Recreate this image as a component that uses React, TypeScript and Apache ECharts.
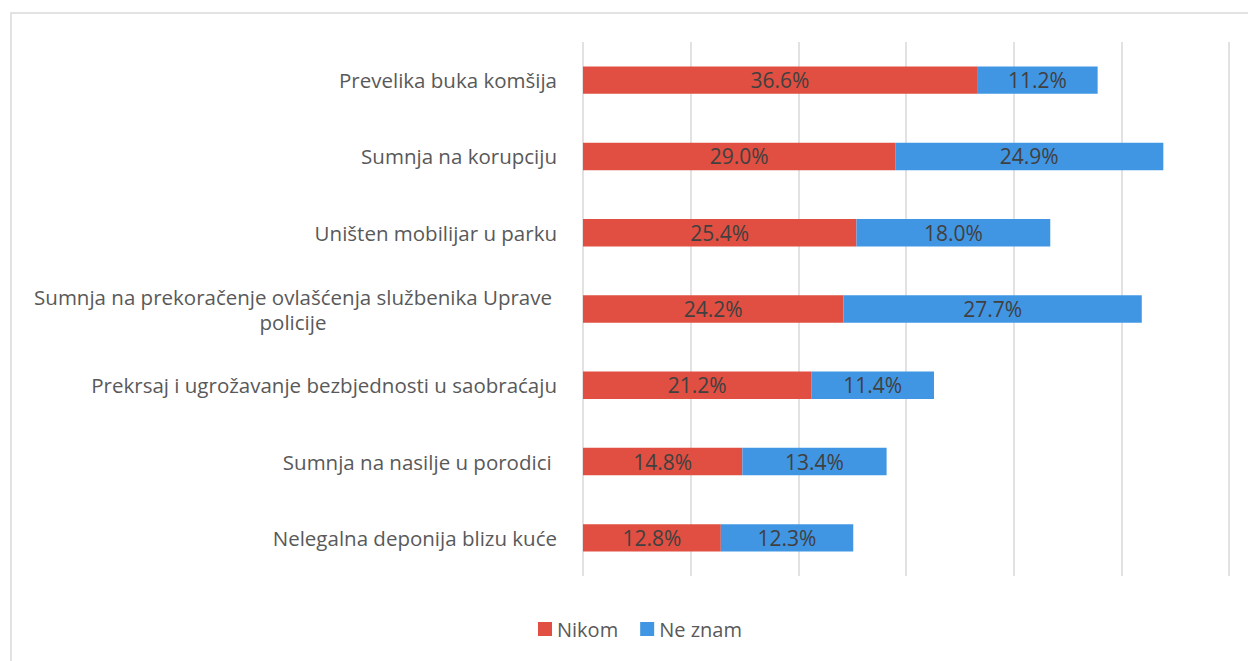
import React, { useEffect, useRef } from "react";
import * as echarts from "echarts";

const categories = [
  "Prevelika buka komšija",
  "Sumnja na korupciju",
  "Uništen mobilijar u parku",
  "Sumnja na prekoračenje ovlašćenja službenika Uprave\npolicije",
  "Prekrsaj i ugrožavanje bezbjednosti u saobraćaju",
  "Sumnja na nasilje u porodici ",
  "Nelegalna deponija blizu kuće",
];
const nikom = [36.6, 29.0, 25.4, 24.2, 21.2, 14.8, 12.8];
const neZnam = [11.2, 24.9, 18.0, 27.7, 11.4, 13.4, 12.3];
const seriesNames = ["Nikom", "Ne znam"];
const colors = ["#E04F41", "#4196E4"];

const FONT = "'Open Sans', 'DejaVu Sans', sans-serif";

export default function App() {
  const ref = useRef<HTMLDivElement>(null);
  useEffect(() => {
    if (!ref.current) return;
    const chart = echarts.init(ref.current, undefined, { renderer: "svg" });
    const label = {
      show: true,
      position: "inside",
      color: "#404040",
      fontSize: 21,
      fontFamily: FONT,
      formatter: (p: any) => p.value.toFixed(1) + "%",
    };
    chart.setOption({
      animation: false,
      backgroundColor: "#ffffff",
      color: colors,
      grid: { left: 583, right: 19, top: 42, bottom: 85, containLabel: false },
      legend: {
        data: seriesNames,
        top: 614,
        left: 533,
        itemWidth: 14,
        itemHeight: 14,
        itemGap: 22,
        icon: "rect",
        textStyle: { color: "#595959", fontSize: 20, fontFamily: FONT },
      },
      xAxis: {
        type: "value",
        min: 0,
        max: 60,
        interval: 10,
        axisLabel: { show: false },
        axisLine: { show: false },
        axisTick: { show: false },
        splitLine: { lineStyle: { color: "#d9d9d9", width: 1.5 } },
      },
      yAxis: {
        type: "category",
        data: categories,
        inverse: true,
        axisLine: { show: false },
        axisTick: { show: false },
        axisLabel: {
          margin: 26,
          color: "#595959",
          fontSize: 20.5,
          fontFamily: FONT,
          formatter: (v: string) => {
            if (v.indexOf("\n") >= 0) {
              return v
                .split("\n")
                .map((s) => "{c|" + s + "}")
                .join("\n");
            }
            return v;
          },
          rich: {
            c: {
              width: 528,
              align: "center",
              color: "#595959",
              fontSize: 20.5,
              fontFamily: FONT,
              lineHeight: 25,
            },
          },
        },
      },
      series: [
        {
          name: seriesNames[0],
          type: "bar",
          stack: "total",
          data: nikom,
          barWidth: "36%",
          label,
        },
        {
          name: seriesNames[1],
          type: "bar",
          stack: "total",
          data: neZnam,
          barWidth: "36%",
          label,
        },
      ],
      graphic: [
        {
          type: "rect",
          shape: { x: 11, y: 13, width: 1300, height: 700 },
          style: { fill: "none", stroke: "#d9d9d9", lineWidth: 1.5 },
          silent: true,
        },
      ],
    });
    return () => chart.dispose();
  }, []);
  return (
    <div
      ref={ref}
      style={{ position: "absolute", left: 0, top: 0, width: 1248, height: 661 }}
    />
  );
}
